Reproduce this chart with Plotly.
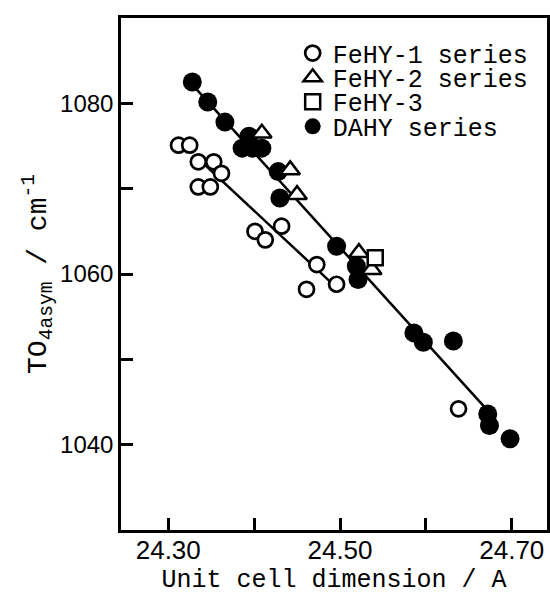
import plotly.graph_objects as go

# ---- data ----
fehy1_x = [24.312, 24.325, 24.335, 24.353, 24.362, 24.335, 24.349, 24.401, 24.413,
           24.432, 24.473, 24.496, 24.461, 24.638]
fehy1_y = [1075.1, 1075.1, 1073.15, 1073.15, 1071.8, 1070.2, 1070.2, 1065.0, 1064.0,
           1065.6, 1061.1, 1058.8, 1058.2, 1044.2]

fehy2_x = [24.409, 24.442, 24.450, 24.522, 24.537]
fehy2_y = [1076.5, 1072.2, 1069.3, 1062.5, 1060.5]

fehy3_x = [24.541]
fehy3_y = [1061.9]

dahy_x = [24.328, 24.346, 24.366, 24.394, 24.386, 24.398, 24.409, 24.428, 24.430,
          24.496, 24.519, 24.521, 24.586, 24.597, 24.632, 24.672, 24.674, 24.698]
dahy_y = [1082.5, 1080.15, 1077.8, 1076.15, 1074.75, 1074.75, 1074.75, 1072.0, 1068.9,
          1063.25, 1060.9, 1059.35, 1053.1, 1052.0, 1052.15, 1043.6, 1042.25, 1040.7]

# drawn straight lines (end points)
line1_x = [24.333, 24.495]
line1_y = [1073.7, 1058.5]
line2_x = [24.328, 24.671]
line2_y = [1082.2, 1044.1]

x_tickvals = [24.30, 24.50, 24.70]
x_ticktext = ["24.30", "24.50", "24.70"]
x_minorvals = [24.40, 24.60]
y_tickvals = [1040, 1060, 1080]
y_ticktext = ["1040", "1060", "1080"]
y_minorvals = [1050, 1070]

legend_names = ["FeHY-1 series", "FeHY-2 series", "FeHY-3", "DAHY series"]

MONO = "Liberation Mono, Courier New, monospace"
SANS = "Liberation Sans, Arial, sans-serif"

fig = go.Figure()

fig.add_trace(go.Scatter(x=line1_x, y=line1_y, mode="lines",
                         line=dict(color="black", width=2.5), showlegend=False,
                         hoverinfo="skip"))
fig.add_trace(go.Scatter(x=line2_x, y=line2_y, mode="lines",
                         line=dict(color="black", width=2.5), showlegend=False,
                         hoverinfo="skip"))

fig.add_trace(go.Scatter(x=dahy_x, y=dahy_y, mode="markers", name=legend_names[3],
                         marker=dict(symbol="circle", size=19, color="black",
                                     line=dict(color="black", width=0)),
                         legend="legend4"))
fig.add_trace(go.Scatter(x=fehy1_x, y=fehy1_y, mode="markers", name=legend_names[0],
                         marker=dict(symbol="circle", size=15, color="white",
                                     line=dict(color="black", width=2.7)),
                         legend="legend"))
fig.add_trace(go.Scatter(x=fehy2_x, y=fehy2_y, mode="markers", name=legend_names[1],
                         marker=dict(symbol="triangle-up", size=17, color="white",
                                     line=dict(color="black", width=2.5)),
                         legend="legend2"))
fig.add_trace(go.Scatter(x=fehy3_x, y=fehy3_y, mode="markers", name=legend_names[2],
                         marker=dict(symbol="square", size=15, color="white",
                                     line=dict(color="black", width=2.5)),
                         legend="legend3"))

leg_common = dict(x=0.403, xanchor="left", yanchor="middle",
                  font=dict(family=MONO, size=25, color="black"),
                  bgcolor="rgba(0,0,0,0)", borderwidth=0, itemwidth=30)
leg_y = [0.9310, 0.8838, 0.8360, 0.7880]

tick_common = dict(ticks="inside", ticklen=12, tickwidth=2.5, tickcolor="black")

fig.update_layout(
    width=550, height=595,
    margin=dict(l=121, r=3, t=18, b=65),
    paper_bgcolor="white", plot_bgcolor="white",
    font=dict(family=SANS, color="black"),
    legend=dict(y=leg_y[0], **leg_common),
    legend2=dict(y=leg_y[1], **leg_common),
    legend3=dict(y=leg_y[2], **leg_common),
    legend4=dict(y=leg_y[3], **leg_common),
    xaxis=dict(range=[24.245, 24.741], tickvals=x_tickvals, ticktext=x_ticktext,
               minor=dict(tickvals=x_minorvals, showgrid=False, **tick_common),
               showline=True, linecolor="black", linewidth=2.5, mirror=True,
               showgrid=False, zeroline=False, automargin=False,
               ticklabelstandoff=-5,
               tickfont=dict(family=SANS, size=26, color="black"),
               title=dict(text="Unit cell dimension / A",
                          font=dict(family=MONO, size=25, color="black"),
                          standoff=6),
               **tick_common),
    yaxis=dict(range=[1030, 1090], tickvals=y_tickvals, ticktext=y_ticktext,
               minor=dict(tickvals=y_minorvals, showgrid=False, **tick_common),
               showline=True, linecolor="black", linewidth=2.5, mirror=True,
               showgrid=False, zeroline=False, automargin=False,
               tickfont=dict(family=SANS, size=24, color="black"),
               title=dict(text="TO<sub>4asym</sub> / cm<sup>-1</sup>",
                          font=dict(family=MONO, size=28, color="black"),
                          standoff=6),
               **tick_common),
)

fig.write_html("out.html", config={"displayModeBar": False},
               post_script="document.body.style.margin='0px';")
